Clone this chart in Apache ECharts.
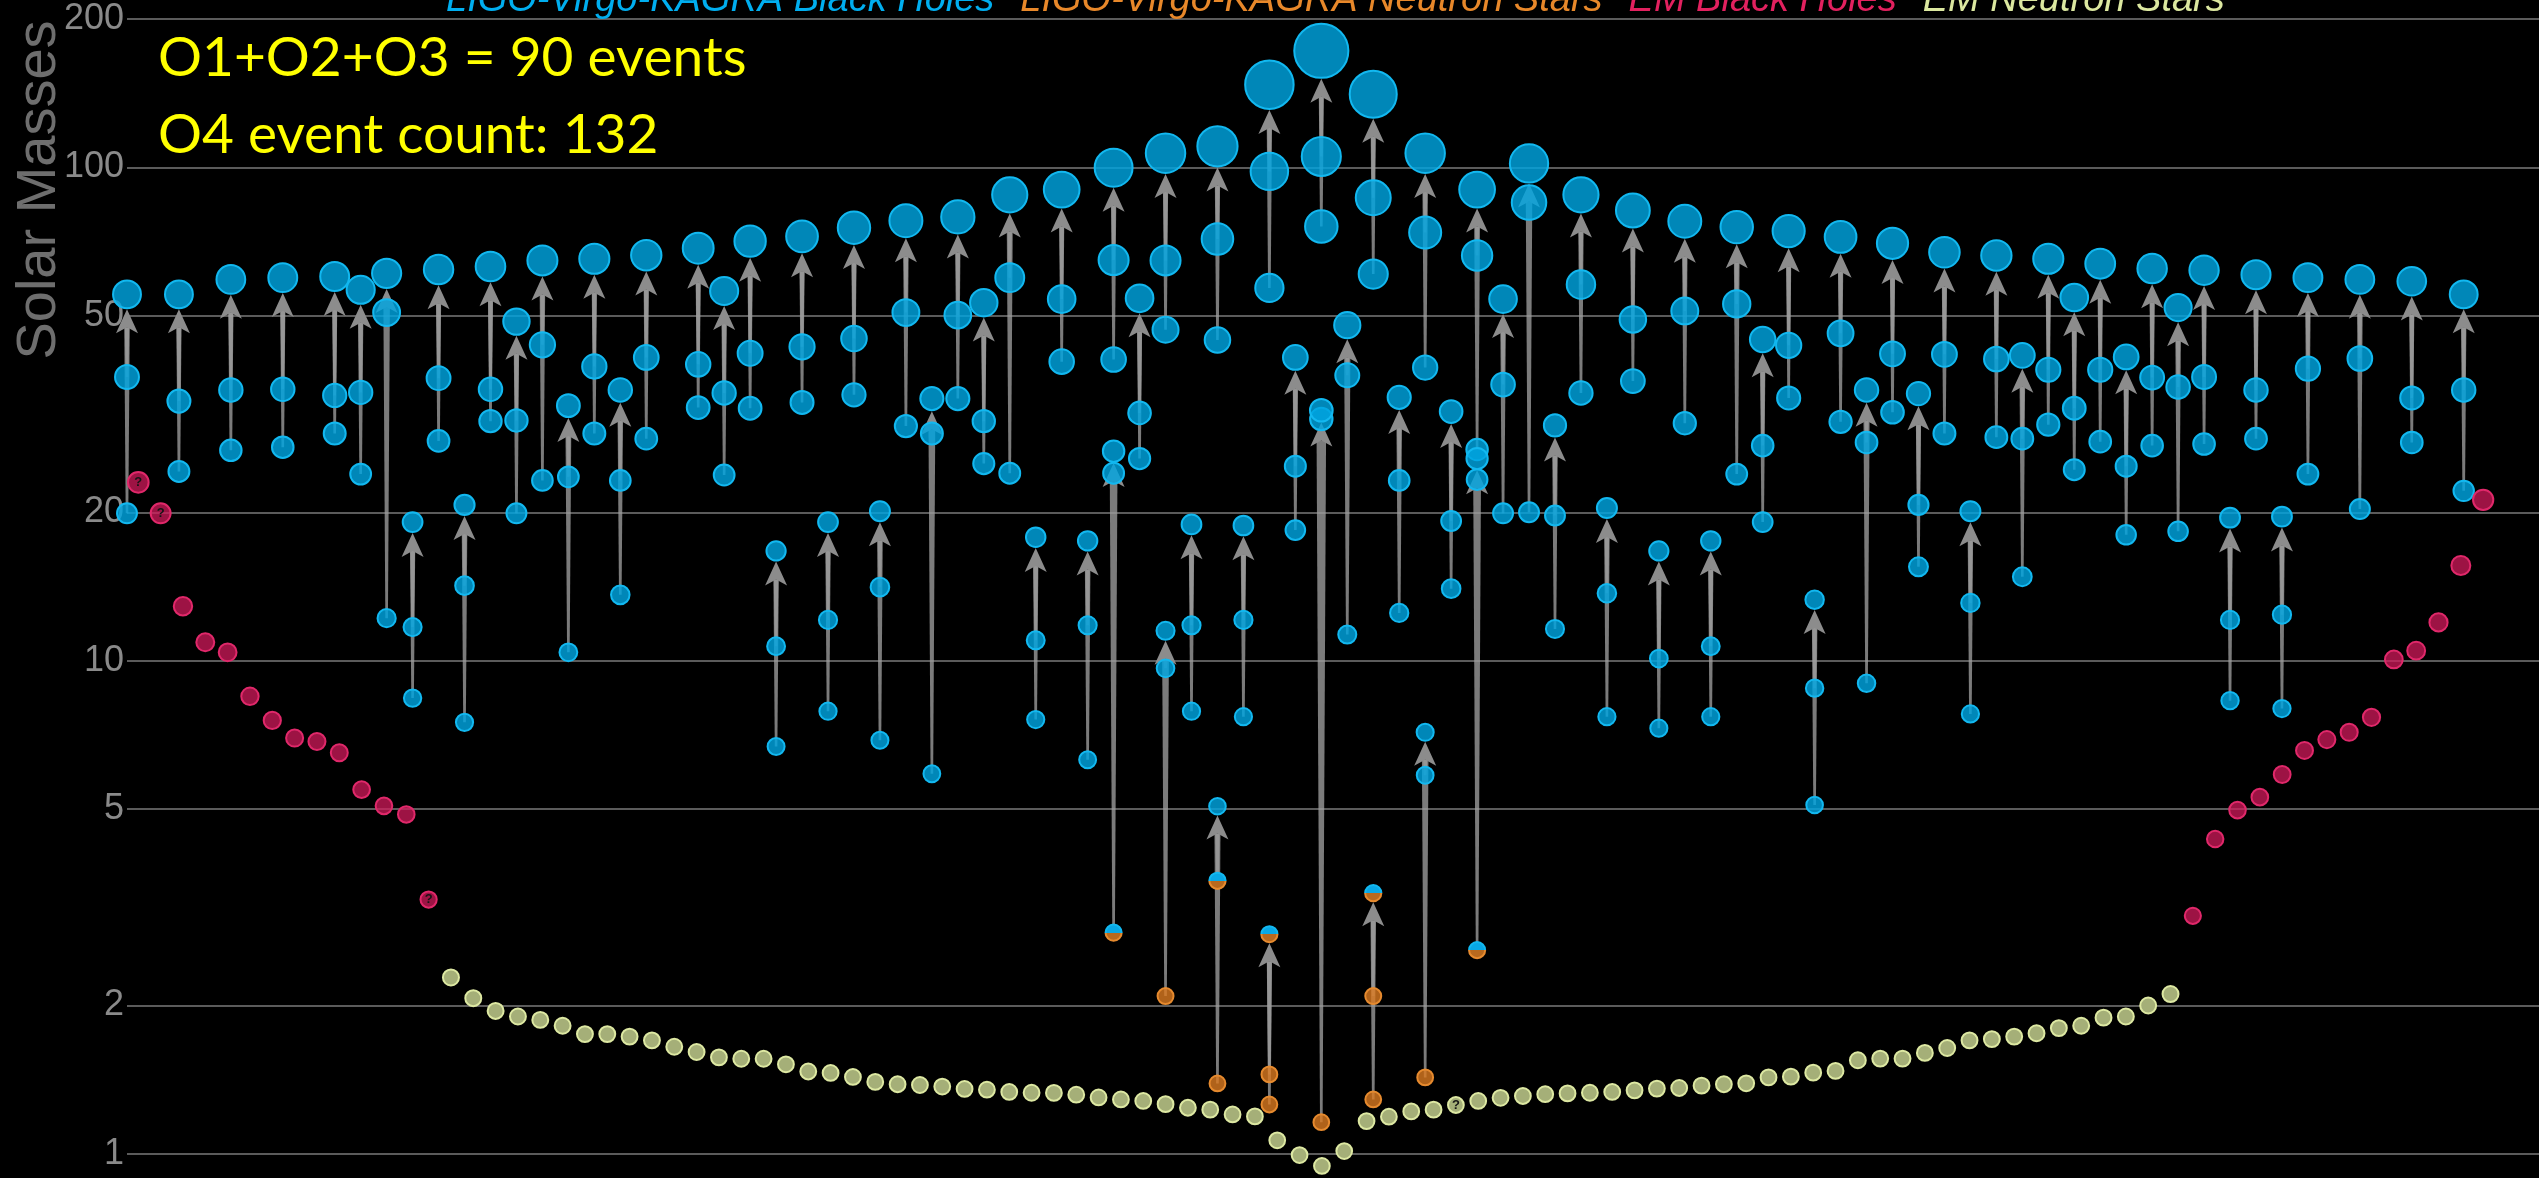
<!DOCTYPE html>
<html>
<head>
<meta charset="utf-8">
<script src="https://cdn.jsdelivr.net/npm/echarts@6/dist/echarts.min.js"></script>
<style>
html,body{margin:0;padding:0;background:#000;}
#chart{width:2539px;height:1178px;}
</style>
</head>
<body>
<div id="chart"></div>
<script>
// ---------- DATA ----------
const yTicks = [1, 2, 5, 10, 20, 50, 100, 200];
const legendNames = ['LIGO-Virgo-KAGRA Black Holes', 'LIGO-Virgo-KAGRA Neutron Stars', 'EM Black Holes', 'EM Neutron Stars'];
const noteLines = ['O1+O2+O3 = 90 events', 'O4 event count: 132'];
const yTitle = 'Solar Masses';

// gravitational-wave events: ordinal slot, final mass, primary, secondary
const gwSlot = [
  0, 2, 4, 6, 8, 9, 10, 11, 12, 13,
  14, 15, 16, 17, 18, 19, 20, 22, 23, 24,
  25, 26, 27, 28, 29, 30, 31, 32, 33, 34,
  35, 36, 37, 38, 38, 39, 40, 40, 41, 42,
  42, 43, 44, 44, 45, 46, 46, 47, 48, 48,
  49, 50, 50, 51, 52, 52, 53, 54, 55, 56,
  57, 58, 59, 60, 61, 62, 63, 64, 65, 66,
  67, 68, 69, 70, 71, 72, 73, 74, 75, 76,
  77, 78, 79, 80, 81, 82, 83, 84, 86, 88,
  90];
const gwFinal = [
  55.3, 55.3, 59.3, 59.8, 60.1, 56.5, 61.0, 19.1, 62.1, 20.7,
  63.0, 48.7, 64.8, 32.9, 65.3, 35.4, 66.4, 68.6, 56.2, 70.9,
  16.7, 72.5, 19.1, 75.5, 20.1, 78.0, 34.0, 79.4, 53.2, 88.0,
  17.8, 90.2, 17.5, 99.9, 26.6, 54.3, 106.9, 11.5, 18.9, 110.4,
  5.07, 18.8, 147.2, 2.79, 41.2, 172.4, 32.2, 47.9, 140.8, 3.38,
  34.2, 106.9, 7.16, 32.0, 90.2, 25.7, 54.1, 101.9, 30.0, 88.0,
  20.4, 81.8, 16.7, 77.8, 17.5, 75.7, 44.8, 74.3, 13.3, 72.3,
  35.4, 70.2, 34.8, 67.3, 20.1, 66.3, 41.6, 65.3, 54.5, 63.8,
  41.3, 62.4, 52.0, 61.9, 19.5, 60.6, 19.6, 59.8, 59.3, 58.8,
  55.3];
const gwM1 = [
  37.6, 33.6, 35.4, 35.5, 34.5, 35.0, 50.8, 11.7, 37.4, 14.2,
  35.5, 30.7, 43.7, 23.6, 39.5, 23.2, 41.2, 39.9, 34.9, 42.0,
  10.7, 43.3, 12.1, 45.0, 14.1, 50.8, 28.9, 50.2, 30.6, 59.8,
  11.0, 54.1, 11.8, 64.9, 24.0, 31.8, 64.8, 9.65, 11.8, 71.6,
  3.58, 12.1, 98.2, 1.45, 24.8, 105.3, 30.9, 37.9, 86.8, 2.09,
  23.2, 73.8, 5.86, 19.2, 66.3, 23.3, 36.3, 84.9, 19.7, 57.9,
  13.7, 49.2, 10.1, 51.2, 10.7, 52.9, 27.3, 43.6, 8.8, 46.1,
  27.7, 41.9, 20.7, 41.8, 13.1, 40.9, 28.2, 38.9, 32.5, 38.9,
  24.8, 37.5, 35.9, 37.6, 12.1, 35.4, 12.4, 39.1, 41.0, 34.1,
  35.4];
const gwM2 = [
  19.9, 24.2, 26.7, 27.1, 28.9, 23.9, 12.2, 8.4, 27.9, 7.5,
  30.6, 19.9, 23.2, 10.4, 28.9, 13.6, 28.2, 32.6, 23.8, 32.5,
  6.7, 33.4, 7.9, 34.6, 6.9, 29.9, 5.9, 34.0, 25.1, 24.0,
  7.6, 40.4, 6.3, 40.8, 2.81, 25.7, 46.9, 2.09, 7.9, 44.7,
  1.39, 7.7, 57.0, 1.26, 18.4, 75.9, 1.16, 11.3, 60.8, 1.29,
  12.5, 39.3, 1.43, 14.0, 26.8, 2.59, 19.9, 20.0, 11.6, 34.9,
  7.7, 36.9, 7.3, 30.3, 7.7, 23.9, 19.1, 34.1, 5.1, 30.5,
  9.0, 31.9, 15.5, 28.9, 7.8, 28.4, 14.8, 30.1, 24.4, 27.8,
  18.0, 27.3, 18.3, 27.5, 8.3, 28.2, 8.0, 23.9, 20.3, 27.7,
  22.1];
// object class of final / primary / secondary: B = black hole, N = neutron star, M = ambiguous
const gwKind = [
  'BBB','BBB','BBB','BBB','BBB','BBB','BBB','BBB','BBB','BBB',
  'BBB','BBB','BBB','BBB','BBB','BBB','BBB','BBB','BBB','BBB',
  'BBB','BBB','BBB','BBB','BBB','BBB','BBB','BBB','BBB','BBB',
  'BBB','BBB','BBB','BBB','BBM','BBB','BBB','BBN','BBB','BBB',
  'BMN','BBB','BBB','MNN','BBB','BBB','BBN','BBB','BBB','MNN',
  'BBB','BBB','BBN','BBB','BBB','BBM','BBB','BBB','BBB','BBB',
  'BBB','BBB','BBB','BBB','BBB','BBB','BBB','BBB','BBB','BBB',
  'BBB','BBB','BBB','BBB','BBB','BBB','BBB','BBB','BBB','BBB',
  'BBB','BBB','BBB','BBB','BBB','BBB','BBB','BBB','BBB','BBB',
  'BBB'];

// electromagnetically observed objects, in display order
const emBlackHolesLeft = [23.0, 19.9, 12.9, 10.9, 10.4, 8.47, 7.57, 6.97, 6.86, 6.51, 5.48, 5.08, 4.88, 3.28];
const emNeutronStars = [
  2.28, 2.07, 1.95, 1.90, 1.87, 1.82, 1.75, 1.75, 1.73, 1.70,
  1.65, 1.61, 1.57, 1.56, 1.56, 1.52, 1.47, 1.46, 1.433, 1.40,
  1.385, 1.38, 1.37, 1.355, 1.35, 1.336, 1.331, 1.33, 1.319, 1.302,
  1.29, 1.281, 1.262, 1.241, 1.23, 1.203, 1.192, 1.066, 0.995, 0.946,
  1.014, 1.166, 1.19, 1.22, 1.23, 1.257, 1.281, 1.30, 1.311, 1.322,
  1.327, 1.331, 1.336, 1.346, 1.357, 1.361, 1.376, 1.385, 1.391, 1.43,
  1.435, 1.462, 1.474, 1.549, 1.561, 1.561, 1.603, 1.64, 1.70, 1.71,
  1.73, 1.757, 1.80, 1.82, 1.89, 1.90, 2.0, 2.11];
const emBlackHolesRight = [3.04, 4.35, 4.98, 5.29, 5.88, 6.58, 6.92, 7.16, 7.68, 10.06, 10.48, 11.96, 15.6, 21.2];
const emUncertain = [0, 1, 13, 59];   // positions (in display order) marked with "?"

// ---------- BUILD ----------
const colors = {
  bhText: '#00AEEF', nsText: '#E8882A', emBhText: '#E2215F', emNsText: '#DCE8A0',
  bhFill: 'rgba(0,165,224,0.82)', bhBorder: '#12B8F0',
  nsFill: 'rgba(220,122,32,0.8)', nsBorder: '#E68A2E',
  redFill: 'rgba(212,26,92,0.74)', redBorder: '#E0286A',
  ylwFill: '#A5AF78', ylwBorder: '#DDE8A2',
  grid: '#7a7a7a', label: '#8a8a8a', title: '#6e6e6e'
};
const symSize = v => 15.5 + 0.224 * v;

const bhPts = [], nsPts = [], mixPts = [];
gwSlot.forEach((s, i) => {
  const vals = [gwFinal[i], gwM1[i], gwM2[i]];
  for (let r = 2; r >= 0; r--) {
    const c = gwKind[i][r];
    const p = [s, vals[r]];
    if (c === 'B') bhPts.push(p); else if (c === 'N') nsPts.push(p); else mixPts.push(p);
  }
});
const arrowData = gwSlot.map((s, i) => [s, gwFinal[i], gwM1[i], gwM2[i]]);

const emAll = emBlackHolesLeft.map(v => ['BH', v])
  .concat(emNeutronStars.map(v => ['NS', v]))
  .concat(emBlackHolesRight.map(v => ['BH', v]));
const emBhData = [], emNsData = [];
emAll.forEach((e, j) => {
  const item = { value: [j, e[1]] };
  if (emUncertain.indexOf(j) >= 0) item.label = { show: true };
  (e[0] === 'BH' ? emBhData : emNsData).push(item);
});

function renderArrow(params, api) {
  const x = api.value(0);
  const pf = api.coord([x, api.value(1)]);
  const tails = [api.coord([x, api.value(3)]), api.coord([x, api.value(2)])];
  const r = symSize(api.value(1)) / 2;
  const tipY = pf[1] + r + 1;
  const headLen = 24, headW = 22, notch = 6;
  const baseY = tipY + headLen;
  const joinY = baseY - notch;
  const cx = pf[0];
  const children = [];
  tails.forEach(t => {
    const ty = t[1];
    if (ty <= baseY) return;
    const L = ty - joinY;
    const wt = 2.6, wh = 4 + 0.008 * L;
    children.push({
      type: 'polygon',
      shape: { points: [[cx - wt / 2, ty], [cx + wt / 2, ty], [cx + wh / 2, joinY], [cx - wh / 2, joinY]] },
      style: { fill: 'rgba(158,158,158,0.78)' }
    });
  });
  children.push({
    type: 'polygon',
    shape: { points: [[cx, tipY], [cx + headW / 2, baseY], [cx, joinY], [cx - headW / 2, baseY]] },
    style: { fill: '#8c8c8c' }
  });
  return { type: 'group', children };
}

const qLabel = { show: false, formatter: '?', position: 'inside', color: '#141414', fontSize: 13, fontWeight: 'bold', fontFamily: 'Liberation Sans, Arial, sans-serif' };

const option = {
  backgroundColor: '#000',
  animation: false,
  grid: { left: 127, right: 0, top: 19, bottom: 24, containLabel: false },
  xAxis: [
    { type: 'value', min: 0, max: 92.9, show: false, splitLine: { show: false } },
    { type: 'value', min: -0.506, max: 107.5, show: false, splitLine: { show: false } }
  ],
  yAxis: [{ type: 'log', logBase: 10, min: 1, max: 200, show: false, splitLine: { show: false } }],
  legend: {
    data: legendNames.map((n, i) => ({
      name: n,
      textStyle: { color: [colors.bhText, colors.nsText, colors.emBhText, colors.emNsText][i] }
    })),
    icon: 'none', itemWidth: 0, itemHeight: 38, itemGap: 21,
    left: 441, top: -19, padding: 0,
    textStyle: { fontSize: 38, fontStyle: 'italic', fontFamily: 'Liberation Sans, Arial, sans-serif', lineHeight: 38 }
  },
  graphic: [
    { type: 'text', left: 158, top: 31, silent: true,
      style: { text: noteLines[0], fill: '#FFFF00', font: '55px Lato, "Open Sans", sans-serif' } },
    { type: 'text', left: 158, top: 108, silent: true,
      style: { text: noteLines[1], fill: '#FFFF00', font: '55px Lato, "Open Sans", sans-serif' } },
    { type: 'text', x: 40, y: 190, rotation: Math.PI / 2, silent: true,
      style: { text: yTitle, fill: colors.title, font: '56px "Liberation Sans", Arial, sans-serif',
               align: 'center', verticalAlign: 'middle', textAlign: 'center', textVerticalAlign: 'middle' } }
  ],
  series: [
    {
      type: 'scatter', name: 'gridlines', data: [], xAxisIndex: 0, yAxisIndex: 0, z: 1, silent: true,
      markLine: {
        silent: true, z: 1, symbol: ['none', 'none'], animation: false,
        lineStyle: { color: colors.grid, width: 1.5, type: 'solid' },
        label: { show: true, position: 'start', distance: 3, formatter: '{c}', color: colors.label,
                 fontSize: 36, fontFamily: 'Liberation Sans, Arial, sans-serif' },
        emphasis: { disabled: true },
        data: yTicks.map(v => ({ yAxis: v }))
      }
    },
    {
      type: 'custom', name: 'arrows', data: arrowData, renderItem: renderArrow,
      xAxisIndex: 0, yAxisIndex: 0, encode: { x: 0, y: 1 }, z: 3, silent: true, clip: false
    },
    {
      type: 'scatter', name: legendNames[0], data: bhPts, xAxisIndex: 0, yAxisIndex: 0, z: 4, clip: false,
      symbolSize: v => symSize(v[1]),
      itemStyle: { color: colors.bhFill, borderColor: colors.bhBorder, borderWidth: 2, opacity: 1 }
    },
    {
      type: 'scatter', name: legendNames[1], data: nsPts, xAxisIndex: 0, yAxisIndex: 0, z: 4, clip: false,
      symbolSize: v => symSize(v[1]),
      itemStyle: { color: colors.nsFill, borderColor: colors.nsBorder, borderWidth: 2, opacity: 1 }
    },
    {
      type: 'scatter', name: legendNames[1], data: mixPts, xAxisIndex: 0, yAxisIndex: 0, z: 5, clip: false,
      symbolSize: v => symSize(v[1]),
      itemStyle: {
        opacity: 1, borderWidth: 2,
        color: new echarts.graphic.LinearGradient(0, 0, 0, 1, [
          { offset: 0, color: '#08A8E6' }, { offset: 0.5, color: '#08A8E6' },
          { offset: 0.5, color: '#B8691E' }, { offset: 1, color: '#B8691E' }]),
        borderColor: new echarts.graphic.LinearGradient(0, 0, 0, 1, [
          { offset: 0, color: '#12B8F0' }, { offset: 0.5, color: '#12B8F0' },
          { offset: 0.5, color: '#E68A2E' }, { offset: 1, color: '#E68A2E' }])
      }
    },
    {
      type: 'scatter', name: legendNames[2], data: emBhData, xAxisIndex: 1, yAxisIndex: 0, z: 4, clip: false,
      symbolSize: v => symSize(v[1]), label: qLabel,
      itemStyle: { color: colors.redFill, borderColor: colors.redBorder, borderWidth: 2, opacity: 1 }
    },
    {
      type: 'scatter', name: legendNames[3], data: emNsData, xAxisIndex: 1, yAxisIndex: 0, z: 4, clip: false,
      symbolSize: v => symSize(v[1]), label: qLabel,
      itemStyle: { color: colors.ylwFill, borderColor: colors.ylwBorder, borderWidth: 2, opacity: 1 }
    }
  ]
};

const chart = echarts.init(document.getElementById('chart'), null, { renderer: 'canvas' });
chart.setOption(option);
</script>
</body>
</html>
